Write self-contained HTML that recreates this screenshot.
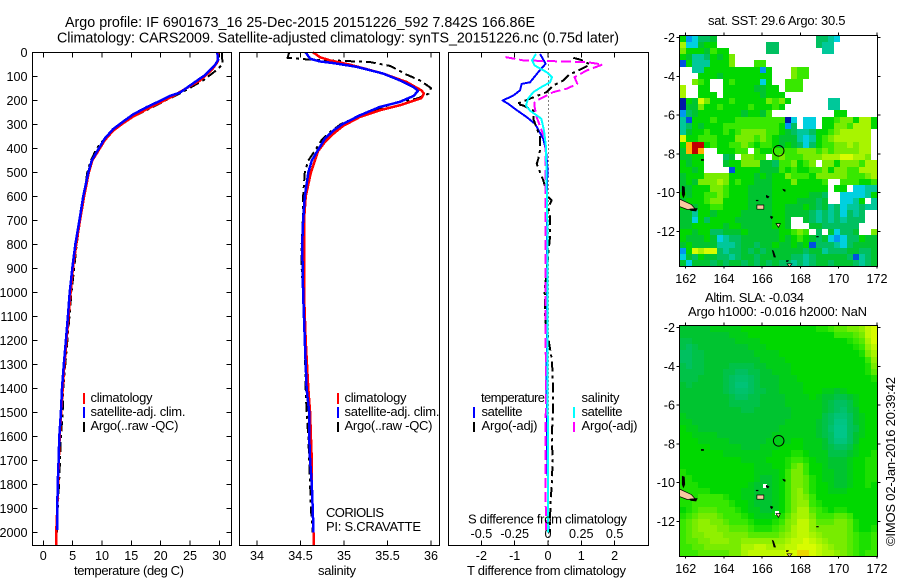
<!DOCTYPE html>
<html lang="en">
<head>
<meta charset="utf-8">
<title>Argo profile 6901673_16</title>
<style>
  html,body{margin:0;padding:0;background:#fff;}
  svg{display:block;}
  text{font-family:"Liberation Sans",sans-serif;font-size:13px;fill:#000;}
  text.tick-text{font-size:12.6px;}
  text.title-text{font-size:14.3px;}
</style>
</head>
<body>
<svg id="fig" width="900" height="580" viewBox="0 0 900 580" xmlns="http://www.w3.org/2000/svg">
  <rect x="0" y="0" width="900" height="580" fill="#fff"/>
  <text class="title-text" x="65" y="27" textLength="470" lengthAdjust="spacing">Argo profile: IF 6901673_16 25-Dec-2015 20151226_592 7.842S 166.86E</text>
  <text class="title-text" x="57" y="42.5" textLength="562" lengthAdjust="spacing">Climatology: CARS2009. Satellite-adjusted climatology: synTS_20151226.nc (0.75d later)</text>

  <g id="marks"></g>

  <text x="74" y="575" textLength="110" lengthAdjust="spacing">temperature (deg C)</text>
  <text x="318" y="575" textLength="38" lengthAdjust="spacing">salinity</text>
  <text x="467" y="575" textLength="159" lengthAdjust="spacing">T difference from climatology</text>
  <text x="468" y="523.5" textLength="159" lengthAdjust="spacing">S difference from climatology</text>

  <g>
    <rect x="83" y="393" width="2" height="11" fill="#ff0000"/>
    <rect x="83" y="407" width="2" height="11" fill="#0000ff"/>
    <rect x="83" y="422" width="2" height="10" fill="#000"/>
    <text x="90.5" y="402" textLength="62" lengthAdjust="spacing">climatology</text>
    <text x="90.5" y="416" textLength="95" lengthAdjust="spacing">satellite-adj. clim.</text>
    <text x="90.5" y="430" textLength="88" lengthAdjust="spacing">Argo(..raw -QC)</text>
  </g>
  <g>
    <rect x="337" y="393" width="2" height="11" fill="#ff0000"/>
    <rect x="337" y="407" width="2" height="11" fill="#0000ff"/>
    <rect x="337" y="422" width="2" height="10" fill="#000"/>
    <text x="344.5" y="402" textLength="62" lengthAdjust="spacing">climatology</text>
    <text x="344.5" y="416" textLength="95" lengthAdjust="spacing">satellite-adj. clim.</text>
    <text x="344.5" y="430" textLength="88" lengthAdjust="spacing">Argo(..raw -QC)</text>
    <text x="326" y="517" textLength="58" lengthAdjust="spacing">CORIOLIS</text>
    <text x="326" y="531" textLength="95" lengthAdjust="spacing">PI: S.CRAVATTE</text>
  </g>
  <g>
    <text x="481" y="402" textLength="64" lengthAdjust="spacing">temperature</text>
    <rect x="473" y="407" width="2" height="11" fill="#0000ff"/>
    <text x="481.5" y="416" textLength="41" lengthAdjust="spacing">satellite</text>
    <rect x="473" y="422" width="2" height="10" fill="#000"/>
    <text x="481.5" y="430" textLength="56" lengthAdjust="spacing">Argo(-adj)</text>
    <text x="581.5" y="402" textLength="38" lengthAdjust="spacing">salinity</text>
    <rect x="573" y="407" width="2" height="11" fill="#00ffff"/>
    <text x="581.5" y="416" textLength="41" lengthAdjust="spacing">satellite</text>
    <rect x="573" y="422" width="2" height="10" fill="#ff00ff"/>
    <text x="581.5" y="430" textLength="56" lengthAdjust="spacing">Argo(-adj)</text>
  </g>

  <text x="708" y="25" textLength="137.5" lengthAdjust="spacing">sat. SST: 29.6 Argo: 30.5</text>
  <text x="705" y="302" textLength="99" lengthAdjust="spacing">Altim. SLA: -0.034</text>
  <text x="688" y="316" textLength="179" lengthAdjust="spacing">Argo h1000: -0.016 h2000: NaN</text>
  <text transform="translate(895 546) rotate(-90)" textLength="169" lengthAdjust="spacing">©IMOS 02-Jan-2016 20:39:42</text>
</svg>

<script>
// ---------- profile data (depth in m) ----------
const depthTicks = [0,100,200,300,400,500,600,700,800,900,1000,1100,1200,1300,1400,1500,1600,1700,1800,1900,2000];
const tempTicks = [0,5,10,15,20,25,30];
const salTicks = [34,34.5,35,35.5,36];
const salTickLabels = ["34","34.5","35","35.5","36"];
const tDiffTicks = [-2,-1,0,1,2];
const sDiffTicks = [-0.5,-0.25,0,0.25,0.5];
const sDiffTickLabels = ["-0.5","-0.25","0","0.25","0.5"];

const tempSatDepth = [0,31,52,94,128,167,181,205,228,258,288,319,358,403,450,500,600,700,800,900,1000,1100,1200,1300,1400,1500,1600,1700,1800,1900,1990];
const tempSat = [29.66,29.8,29.26,27.56,25.57,23.3,21.6,19.6,17.6,15.3,13.6,11.9,10.5,9.4,8.25,7.67,6.8,6.15,5.46,4.95,4.5,4.2,3.85,3.5,3.19,3.0,2.73,2.6,2.45,2.38,2.38];
const tempClimDepth = [0,40,73,117,140,181,209,233,267,295,326,365,403,450,500,600,700,800,900,1000,1100,1200,1300,1400,1500,1600,1700,1800,1900,2000,2055];
const tempClim = [29.8,29.7,28.7,26.7,25.0,22.16,19.9,17.9,15.3,13.6,11.9,10.5,9.55,8.35,7.75,6.95,6.25,5.6,5.05,4.65,4.3,3.95,3.6,3.3,3.05,2.8,2.65,2.5,2.38,2.2,2.2];
const tempArgoDepth = [0,25,50,73,115,163,198,233,274,330,400,450,500,600,700,800,900,1000,1100,1200,1300,1400,1500,1600,1700,1800,1900,2000];
const tempArgo = [30.4,30.5,30.55,29.55,27.3,23.9,21,18.2,14.8,11.4,9.1,8.1,7.5,6.9,6.25,5.7,5.25,4.8,4.45,4.1,3.75,3.4,3.3,3.0,2.85,2.67,2.45,2.3];

const salSatDepth = [0,5,26,37,44,60,88,116,144,160,181,206,227,262,297,324,359,407,450,500,600,700,800,1000,1200,1400,1500,1600,1700,1800,1900,2000];
const salSat = [34.56,34.57,34.61,34.72,34.88,35.15,35.45,35.64,35.8,35.85,35.8,35.64,35.41,35.18,34.99,34.88,34.78,34.7,34.63,34.59,34.55,34.53,34.52,34.53,34.55,34.57,34.6,34.6,34.61,34.63,34.64,34.65];
const salClimDepth = [0,5,19,33,51,88,123,158,171,190,220,241,269,306,338,373,412,500,600,700,800,1000,1200,1400,1500,1600,1700,1800,1900,2000,2055];
const salClim = [34.64,34.67,34.72,34.84,35.07,35.45,35.72,35.89,35.92,35.89,35.64,35.41,35.18,34.99,34.88,34.78,34.7,34.62,34.56,34.54,34.54,34.54,34.56,34.59,34.61,34.62,34.63,34.63,34.64,34.65,34.65];
const salArgoDepth = [0,22,28,35,40,56,92,116,148,172,192,209,237,269,297,331,366,401,450,500,600,700,800,900,1000,1200,1400,1500,1600,1700,1800,1900,2000];
const salArgo = [34.37,34.35,34.54,34.99,35.3,35.53,35.72,35.87,36.0,35.97,35.84,35.6,35.37,35.15,34.97,34.84,34.74,34.68,34.59,34.55,34.53,34.526,34.514,34.514,34.53,34.55,34.56,34.57,34.59,34.6,34.61,34.62,34.64];

const tDiffSatDepth = [6,47,68,124,131,158,179,200,214,235,269,297,360,408,478,800,1400,1700,1800,2000];
const tDiffSat = [-0.24,-0.07,-0.21,-0.54,-0.79,-0.84,-1.04,-1.36,-1.19,-0.99,-0.64,-0.39,-0.14,-0.06,-0.02,-0.03,-0.04,-0.02,0,0.01];
const tDiffArgoDepth = [22,31,50,82,89,117,137,165,214,221,242,276,353,408,443,464,533,603,617,644,686,769,992,1117,1283,1400,1500,1600,1700,1800,1900,2000];
const tDiffArgo = [0.76,0.99,1.26,0.81,0.66,0.46,0.16,-0.04,-0.94,-0.74,-0.44,-0.44,-0.24,-0.24,-0.29,-0.34,-0.14,0.01,0.11,0.01,0.06,0.06,-0.1,-0.08,0.12,0.15,0.15,0.11,0.14,0.11,0.07,0.06];
const sDiffSatDepth = [6,33,54,82,103,124,144,165,193,221,242,276,325,394,800,1400,2000];
const sDiffSat = [-0.09,-0.12,-0.1,-0.01,0.03,0.015,-0.05,-0.11,-0.15,-0.165,-0.135,-0.05,-0.03,-0.015,-0.0025,-0.0025,0];
const sDiffArgoDepth = [19,33,40,50,75,103,131,151,165,193,207,228,269,367,1000,1400,1700,2000];
const sDiffArgo = [-0.32,-0.185,0.29,0.41,0.29,0.2,0.22,0.14,0.04,-0.06,-0.1,-0.1,-0.085,-0.02,-0.02,-0.015,-0.02,-0.015];

// ---------- map data ----------
const lonTicks = [162,164,166,168,170,172];
const latTicks = [-2,-4,-6,-8,-10,-12];
const floatLon = 166.86;
const floatLat = -7.842;
const _ = null;
// satellite SST colour levels (0 = coldest, 13 = warmest); null = no data
const sstLevels = [
[7,2,3,5,5,6,_,_,_,_,_,_,_,_,_,_,_,_,_,_,_,_,5,5,4,3,_,_,_,_,_,_],
[10,3,3,6,7,7,_,_,_,_,_,_,_,_,5,5,_,_,_,_,_,_,5,4,4,_,_,_,_,_,_,_],
[9,7,7,7,6,8,7,7,_,_,_,_,_,_,5,5,_,_,_,_,_,_,_,4,4,_,_,_,_,_,_,_],
[7,6,4,4,5,7,6,7,9,_,_,_,_,_,_,_,_,_,_,_,_,_,_,_,_,_,_,_,_,_,_,_],
[1,7,4,4,4,7,7,7,9,_,_,_,8,8,_,_,_,_,_,_,_,_,_,_,_,_,_,_,_,_,_,_],
[_,_,4,4,7,7,7,7,7,7,7,7,7,2,7,_,_,_,9,8,8,_,_,_,_,_,_,_,_,_,_,_],
[_,_,_,7,7,7,6,7,7,7,7,7,7,7,7,_,_,_,9,8,8,_,_,_,_,_,_,_,_,_,_,_],
[_,_,9,8,7,_,_,7,8,7,7,7,7,3,7,_,_,8,8,8,_,_,_,_,_,_,_,_,_,_,_,_],
[10,_,_,7,7,_,_,7,7,7,7,7,6,6,7,7,_,8,8,8,_,_,_,_,_,_,_,_,_,_,_,_],
[10,_,_,7,7,7,_,7,7,7,7,7,7,6,7,7,7,_,_,_,_,_,_,_,_,_,_,_,_,_,_,_],
[0,7,6,11,9,7,7,7,8,7,7,7,7,7,9,8,9,7,_,_,_,_,_,_,4,4,_,_,_,_,_,_],
[0,6,6,9,7,7,8,7,7,7,7,8,7,7,7,8,7,_,_,_,_,_,_,_,4,4,_,_,_,_,_,_],
[2,5,6,7,7,7,7,7,7,7,6,7,7,6,8,_,_,_,_,_,_,_,_,_,_,7,7,_,_,_,_,_],
[4,1,7,7,7,8,7,7,7,8,8,8,8,8,8,8,8,0,3,_,3,3,_,7,7,8,9,9,7,10,10,7],
[4,5,7,6,7,7,7,8,8,8,8,8,8,8,8,8,7,2,5,_,3,3,_,7,7,9,9,8,10,10,10,7],
[4,6,7,7,8,7,7,8,7,8,9,9,9,9,8,8,7,6,5,4,4,5,7,7,8,9,10,10,10,10,10,_],
[11,7,7,8,8,8,7,7,7,9,9,9,8,9,8,7,6,6,6,4,3,4,7,8,9,10,10,10,10,10,10,_],
[7,12,13,13,7,8,7,7,8,8,9,8,7,8,8,7,6,7,6,5,3,5,7,8,8,9,9,10,9,10,10,_],
[6,12,13,12,_,_,7,7,7,8,8,_,8,7,7,8,8,8,8,9,9,9,8,9,8,9,9,9,9,10,10,_],
[6,6,7,7,_,_,_,5,6,_,9,9,8,8,_,8,9,8,8,8,9,9,9,10,10,10,11,11,10,10,9,_],
[7,6,7,7,_,_,_,6,7,7,9,9,9,6,6,5,8,8,9,7,8,9,_,9,9,7,9,9,9,8,10,10],
[7,7,6,7,_,_,_,_,1,7,7,7,7,6,6,6,8,7,8,7,7,8,8,9,7,9,9,8,8,10,10,10],
[6,7,7,7,9,9,9,9,7,7,7,7,6,7,6,7,7,9,8,8,8,7,9,9,9,9,9,8,8,8,9,10],
[6,7,6,9,9,9,10,9,7,8,7,7,6,6,6,7,7,7,9,7,7,7,7,8,_,_,8,8,8,7,7,8],
[6,6,7,7,7,9,9,8,7,7,7,6,6,6,6,7,7,7,7,7,7,7,7,7,_,7,7,_,3,3,4,4],
[7,6,7,7,8,8,9,8,7,7,7,6,6,6,6,7,7,7,7,7,7,6,6,5,_,_,3,3,3,3,4,7],
[6,7,7,7,8,9,9,7,7,7,7,6,6,6,6,7,7,7,7,6,6,6,5,6,_,_,3,3,4,7,_,4],
[7,6,6,7,7,8,8,7,7,7,7,6,6,6,6,7,7,6,6,6,7,6,5,6,4,5,3,4,4,5,4,4],
[6,6,4,7,7,6,7,7,7,7,6,6,6,6,6,7,7,6,6,6,6,5,4,5,4,5,3,5,4,5,_,_],
[6,6,3,7,5,7,7,7,7,6,6,6,6,6,6,7,7,6,_,_,6,5,4,5,4,5,4,5,5,5,_,_],
[6,6,7,7,7,7,7,6,7,7,6,6,6,6,6,7,7,6,_,_,_,6,6,5,5,5,5,5,5,_,_,_],
[7,7,6,7,7,5,5,6,6,6,7,6,6,6,6,6,7,7,8,9,8,_,5,_,6,3,5,5,6,_,_,9],
[7,6,6,6,7,6,3,4,5,5,6,6,6,6,6,6,7,6,7,8,7,6,5,6,3,2,3,5,5,7,6,6],
[6,7,6,6,6,6,4,4,4,5,6,6,5,6,6,7,6,6,7,6,7,1,5,5,5,4,3,5,6,6,6,6],
[2,7,11,10,11,11,5,4,5,5,6,5,6,5,6,6,6,6,6,6,5,6,6,4,5,5,5,6,6,5,5,6],
[3,6,5,7,6,6,5,5,4,5,6,6,5,6,6,6,6,6,5,5,4,5,6,6,6,6,6,5,1,4,5,6],
[6,3,6,6,6,5,6,5,6,6,5,6,5,6,5,6,5,5,4,5,4,5,6,6,5,6,6,6,5,4,5,6]
];
// altimeter SLA colour levels on the same colour scale
const slaLevels = [
[6,6,6,6,6,6.5,6.5,6.5,6.5,6.5,7,7,7,7,7,7,7,7,7,7,7,7,7.5,7.5,8,8.5,8.5,9,9,9.5,10.5,11],
[6,6,6,6,6,6,6,6,6.5,6.5,6.5,7,7,7,7,7,7,7,7,7,7,7,7,7,7,8,8,8,8.5,9,10.5,11],
[5.5,5.5,6,6,6,6,6,6,6,6.5,6.5,6.5,6.5,7,7,7,7,7,7,7,7,7,7,7,7,7,7,7.5,8,8.5,10,11],
[5.5,5,5.5,6,6,6,6,6,6,6,6,6.5,6.5,6.5,7,7,7,7,7,7,7,7,7,7,7,7,7,7,7.5,8,9.5,10.5],
[5,5,5.5,5.5,6,6,6,6,6,6,6,6,6.5,6.5,6.5,6.5,7,7,7,7,7,7,7,7,7,7,7,7,7,7.5,9,10],
[5,5,5.5,5.5,6,6,6,6,6,6,6,6,6,6.5,6.5,6.5,6.5,7,7,7,7,7,7,7,7,7,7,7,7,7,8,9.5],
[5.5,5,5.5,5.5,6,6,6,6,5.5,5.5,5.5,5.5,6,6,6.5,6.5,6.5,6.5,7,7,7,7,7,7,7,7,7,7,7,7,7.5,9],
[5.5,5.5,5.5,5.5,6,6,6,5.5,5.5,5,5,5.5,5.5,6,6,6.5,6.5,6.5,7,7,7,7,7,7,7,7,7,7,7,7,7.5,8.5],
[5.5,5.5,5.5,6,6,6,6,5.5,5,4.8,4.8,5,5.5,6,6,6,6.5,6.5,6.5,7,7,7,7,7,7,7,7,7,7,7,7,7.5],
[6,5.5,6,6,6,6,6,5.5,5,4.6,4.6,5,5.5,6,6,6,6.5,6.5,6.5,6.5,7,7,7,7,7,7,7,7,7,7,7,7],
[6,6,6,6,6,6,6,5.5,5,4.8,4.8,5,5.5,5.5,6,6,6.5,6.5,6.5,6.5,7,7,7,6.5,6.5,6,6.5,7,7,7,7,7],
[6,6,6,6,6,6,6,6,5.5,5,5,5.5,5.5,6,6,6,6,6.5,6.5,6.5,6.5,7,6.5,6,6,5.5,5.5,6,6.5,7,7,7],
[6,6,6,6,6,6,6,6,5.5,5.5,5.5,5.5,5.5,6,6,6,6,6.5,6.5,6.5,6.5,6.5,6.5,6,5.5,5,5,5.5,6.5,7,7,7],
[6,6,6,6,6,6,6,6,6,6,5.5,5.5,6,6,6,6,6,6,6.5,6.5,6.5,6.5,6.5,6,5.5,5,4.8,5.5,6,7,7,7],
[6.5,6,6,6,6,6,6,6,6,6,6,6,6,6,6,6,6,6,6.5,6.5,6.5,6.5,6.5,5.5,5,4.6,4.6,5,6,6.5,7,7],
[6.5,6.5,6,6,6,6,6,6,6,6,6,6,6,6,6,6,6,6.5,6.5,6.5,6.5,6.5,6,5.5,5,4.4,4.4,5,6,6.5,7,7],
[7,6.5,6.5,6,6,6,6,6,6,6,6,6,6,6,6,6,6.5,6.5,6.5,6.5,6.5,6.5,6,5.5,4.8,4.3,4.3,5,5.5,6.5,7,7],
[7,7,6.5,6.5,6.5,6.5,6,6,6,6,6,6,6,6,6,6.5,6.5,6.5,6.5,6.5,6.5,6.5,6,5.5,5,4.3,4.3,5,6,6.5,7,7],
[7,7,7,6.5,6.5,6.5,6.5,6.5,6,6,6,6,6,6,6.5,6.5,6.5,6.5,7,7,6.5,6.5,6.5,6,5,4.5,4.5,5,6,7,7,7],
[7,7,7,7,7,6.5,6.5,6.5,6.5,6.5,6,6,6,6.5,6.5,6.5,7,7,7,7,6.5,6.5,6.5,6,5.5,5,5,5.5,6.5,7,7,7],
[7,7,7,7,7,7,7,6.5,6.5,6.5,6.5,6.5,6.5,6.5,6.5,7,7,7,7.5,7.5,7,6.5,6.5,6.5,5.5,5.5,5.5,6,6.5,7,7,7.5],
[7,7,7,7,7,7,7,7,7,7,6.5,6.5,6.5,6.5,7,7,7,7.5,8,8,7.5,7,6.5,6.5,6,6,6,6.5,7,7,7.5,7.5],
[7,7,7,7,7,7,7,7,7,7,7,7,6.5,6.5,6.5,7,7,7.5,8.5,9,8,7,7,6.5,6,6,6,6.5,7,7,7.5,7.5],
[7.5,7,7,7,7,7,7,7,7,7,7,7,6.5,6.5,6.5,6.5,7,8,9,9,8,7,7,6.5,6.5,6,6,6.5,7,7,7.5,7.5],
[7.5,7.5,7,7,7,7,7,7,7,7,7,7,6.5,6,6,6.5,7,8,9,9,8.5,7.5,7,6.5,6.5,6,6,6.5,7,7,7.5,7.5],
[7.5,7.5,7.5,7,7,7,7,7,7,7,7,6.5,6,6,6,6.5,7,8,9,9,8.5,7.5,7,7,6.5,6,6,6.5,7,7,7.5,7],
[7.5,7.5,7.5,7.5,7.5,7,7,7,7,7,6.5,6.5,6,6,6,6.5,7,8,9,9.5,8.5,7.5,7,7,6.5,6.5,6.5,7,7,7,7,7],
[7.5,7.5,7.5,8,8,8,8,7.5,7,7,6.5,6.5,6,6,6,6.5,7,8,9,9.5,9,8,7,7,7,7,7,7,7,7,7,7],
[7.5,7.5,8,8,8,8,8,8,7.5,7,7,6.5,6,6,6,6.5,7,8,9,9.5,9.5,8,7.5,7,7,7,7,7,7,7,7,7],
[7,7.5,8,8.5,8.5,8.5,8,8,8,7.5,7,6.5,6.5,6,6,6.5,7,8,9,10,10,8.5,8,7.5,7,7.5,7.5,7,7,7,7,7],
[7.5,8,8.5,9,9,9,8.5,8,8,8,7.5,7,6.5,6.5,6.5,7,7.5,8.5,9.5,10,10,9,8,8,8,8.5,8.5,8,7,7,7,7],
[8,8.5,9,9.5,9.5,9,9,8.5,8,8,8,7.5,7,7,7,7.5,8,9,9.5,10.5,10.5,9.5,8.5,8.5,8.5,9,9,8.5,7.5,7,7,7],
[8,8.5,9,9.5,9.5,9.5,9,9,8.5,8.5,8.5,8,7.5,7.5,7.5,8,8.5,9,10,10.5,10.5,9.5,9,9,9,9,9,8.5,7.5,7,7,7.5],
[8,8.5,9,9,9.5,9.5,9.5,9,9,9,9,8.5,8.5,8.5,8.5,8.5,9,9.5,10,10.5,10.5,10,9.5,9,9,9,9,8.5,8,7.5,7.5,8],
[8,8.5,8.5,9,9,9.5,9.5,9.5,9,9,9.5,9.5,9.5,9.5,9.5,9.5,9.5,10,10.5,10.5,11,10.5,10,9.5,9,9,9,8.5,8,7.5,7.5,8],
[8,8,8.5,8.5,9,9,9,9,9,9,10,10,10.5,10.5,10,10,10,10.5,10.5,11,11,11,10.5,10,9.5,9,9,8.5,8,7.5,7.5,8],
[8,8,8,8.5,8.5,8.5,8.5,8.5,9,9,10,10.5,10.5,10.5,10.5,10.5,10.5,11,11,11.5,11.5,11,10.5,10,10,9.5,9,8.5,8,7.5,8,8]
];
// coastline polygons as [lon, lat] vertices
const tanIslands = [
  [[161.67,-10.33],[162.0,-10.48],[162.3,-10.62],[162.5,-10.85],[162.1,-10.88],[161.67,-10.72]],
  [[165.72,-10.64],[166.08,-10.64],[166.08,-10.86],[165.72,-10.86]],
  [[166.72,-11.6],[166.95,-11.6],[166.85,-11.8]],
  [[167.3,-13.68],[167.55,-13.68],[167.42,-13.83]]
];
const blackIslands = [
  [[161.8,-9.65],[161.95,-9.7],[161.97,-10.1],[161.88,-10.3],[161.8,-10.1]],
  [[162.2,-10.84],[162.62,-10.8],[162.55,-10.97],[162.25,-10.94]],
  [[162.8,-8.27],[162.95,-8.27],[162.95,-8.36],[162.8,-8.36]],
  [[167.05,-9.8],[167.22,-9.85],[167.2,-9.97],[167.1,-9.9]],
  [[166.2,-10.12],[166.38,-10.2],[166.3,-10.3],[166.2,-10.25]],
  [[165.67,-10.38],[165.8,-10.38],[165.8,-10.44],[165.67,-10.44]],
  [[166.42,-11.2],[166.58,-11.25],[166.5,-11.38],[166.42,-11.3]],
  [[166.5,-12.95],[166.6,-13],[166.72,-13.35],[166.6,-13.35]],
  [[167.25,-13.5],[167.4,-13.5],[167.35,-13.58],[167.25,-13.58]],
  [[168.82,-12.25],[168.95,-12.25],[168.95,-12.31],[168.82,-12.31]]
];
// gaps in the altimeter field near islands, [lon, lat]
const slaGapLon = [166.16,166.76];
const slaGapLat = [-10.16,-11.56];
const colourStops = ["#0018a8","#0050e0","#0098f0","#00d0e0","#00c89a","#00c060","#00c430","#00d800","#38e800","#78ec00","#a8f400","#d8fc00","#ffb000","#c00000"];

// ---------- helpers ----------
const NS = "http://www.w3.org/2000/svg";
const root = document.getElementById("marks");
function node(tag, attrs, name) {
  const el = document.createElementNS(NS, tag);
  for (const k in attrs) el.setAttribute(k, attrs[k]);
  
  
  root.appendChild(el);
  return el;
}
function tick(x1, y1, x2, y2, name) {
  node("line", {x1:x1, y1:y1, x2:x2, y2:y2, stroke:"#000", "stroke-width":1, "shape-rendering":"crispEdges"}, name);
}
function label(x, y, str, anchor, name) {
  const t = node("text", {x:x, y:y, "text-anchor":anchor, "class":"tick-text"}, name);
  t.textContent = str;
}
function frame(x0, y0, x1, y1, name) {
  node("rect", {x:x0, y:y0, width:x1-x0, height:y1-y0, fill:"none", stroke:"#000", "stroke-width":1, "shape-rendering":"crispEdges"}, name);
}
function hex(c) { return [1,3,5].map(i => parseInt(c.substr(i,2),16)); }
function levelColour(v) {
  const lo = Math.max(0, Math.min(colourStops.length-1, Math.floor(v)));
  const hi = Math.min(colourStops.length-1, lo+1);
  const f = v-lo, a = hex(colourStops[lo]), b = hex(colourStops[hi]);
  return "rgb("+a.map((p,i)=>Math.round(p+(b[i]-p)*f)).join(",")+")";
}

// ---------- profile axes ----------
const TOP = 52.5, BOTTOM = 545.5;
const yDepth = d => TOP + d*0.24;
const xTemp = t => 43.3 + t*5.867;
const xSal = s => 257 + (s-34)*87;
const xTDiff = v => 548 + v*33.3;
const xSDiff = v => 548 + v*133.2;

function profile(depths, values, xFn, colour, dash, width, name) {
  const pts = values.map((v,i) => xFn(v).toFixed(1)+","+yDepth(depths[i]).toFixed(1)).join(" ");
  const attrs = {points:pts, fill:"none", stroke:colour, "stroke-width":width, "shape-rendering":"crispEdges", "stroke-linejoin":"round"};
  if (dash) attrs["stroke-dasharray"] = dash;
  node("polyline", attrs, name);
}

// temperature panel
depthTicks.forEach(d => {
  tick(32.5, yDepth(d), 37.5, yDepth(d), "depth-tick-left-"+d);
  tick(226.5, yDepth(d), 231.5, yDepth(d), "depth-tick-right-"+d);
  label(27.5, yDepth(d)+4.5, String(d), "end", "depth-tick-label-"+d);
});
tempTicks.forEach(t => {
  tick(xTemp(t), TOP, xTemp(t), TOP+5, "temperature-tick-top-"+t);
  tick(xTemp(t), BOTTOM-5, xTemp(t), BOTTOM, "temperature-tick-bottom-"+t);
  label(xTemp(t), 560, String(t), "middle", "temperature-tick-label-"+t);
});
profile(tempArgoDepth, tempArgo, xTemp, "#000", "10 4 3 4", 2, "temperature-argo-line");
profile(tempClimDepth, tempClim, xTemp, "#ff0000", null, 2.5, "temperature-climatology-line");
profile(tempSatDepth, tempSat, xTemp, "#0000ff", null, 2.5, "temperature-satellite-line");
frame(32.5, TOP, 231.5, BOTTOM, "temperature-panel-frame");

// salinity panel
salTicks.forEach((s,i) => {
  tick(xSal(s), TOP, xSal(s), TOP+5, "salinity-tick-top-"+s);
  tick(xSal(s), BOTTOM-5, xSal(s), BOTTOM, "salinity-tick-bottom-"+s);
  label(xSal(s), 560, salTickLabels[i], "middle", "salinity-tick-label-"+s);
});
profile(salArgoDepth, salArgo, xSal, "#000", "10 4 3 4", 2, "salinity-argo-line");
profile(salClimDepth, salClim, xSal, "#ff0000", null, 2.5, "salinity-climatology-line");
profile(salSatDepth, salSat, xSal, "#0000ff", null, 2.5, "salinity-satellite-line");
frame(239.5, TOP, 439.5, BOTTOM, "salinity-panel-frame");

// difference panel
node("line", {x1:548.5, y1:TOP, x2:548.5, y2:BOTTOM, stroke:"#000", "stroke-width":1, "stroke-dasharray":"1 3", "shape-rendering":"crispEdges"}, "zero-difference-line");
tDiffTicks.forEach(v => {
  tick(xTDiff(v), TOP, xTDiff(v), TOP+5, "t-difference-tick-top-"+v);
  tick(xTDiff(v), BOTTOM-5, xTDiff(v), BOTTOM, "t-difference-tick-bottom-"+v);
  label(xTDiff(v), 560, String(v), "middle", "t-difference-tick-label-"+v);
});
sDiffTicks.forEach((v,i) => {
  label(xSDiff(v), 538, sDiffTickLabels[i], "middle", "s-difference-tick-label-"+v);
});
profile(tDiffSatDepth, tDiffSat, xTDiff, "#0000ff", null, 2, "t-difference-satellite-line");
profile(tDiffArgoDepth, tDiffArgo, xTDiff, "#000", "10 4 3 4", 2, "t-difference-argo-line");
profile(sDiffArgoDepth, sDiffArgo, xSDiff, "#ff00ff", "10 4", 2, "s-difference-argo-line");
profile(sDiffSatDepth, sDiffSat, xSDiff, "#00ffff", null, 2, "s-difference-satellite-line");
frame(448.5, TOP, 648.5, BOTTOM, "difference-panel-frame");

// ---------- maps ----------
const xLon = lon => 685.7 + (lon-162)*19.13;
function drawMap(levels, top, bottom, labelBaseline, gapLon, gapLat, mapName) {
  const yLat = lat => top + 2.2 + (-2-lat)*19.36;
  const left = 679.5, right = 877.5;
  const rows = levels.length, cols = levels[0].length;
  levels.forEach((row, r) => {
    const y0 = Math.round(top + (bottom-top)*r/rows), y1 = Math.round(top + (bottom-top)*(r+1)/rows);
    row.forEach((v, c) => {
      if (v === null) return;
      const x0 = Math.round(left + (right-left)*c/cols), x1 = Math.round(left + (right-left)*(c+1)/cols);
      node("rect", {x:x0, y:y0, width:x1-x0, height:y1-y0, fill:levelColour(v), "shape-rendering":"crispEdges"}, mapName+"-cell");
    });
  });
  gapLon.forEach((lon,i) => {
    node("rect", {x:Math.round(xLon(lon))-2, y:Math.round(yLat(gapLat[i]))-2, width:4, height:4, fill:"#fff", "shape-rendering":"crispEdges"}, mapName+"-gap");
  });
  tanIslands.forEach(p => {
    node("polygon", {points:p.map(q => xLon(q[0]).toFixed(1)+","+yLat(q[1]).toFixed(1)).join(" "), fill:"#f8c8a0", stroke:"#000", "stroke-width":0.7}, mapName+"-island");
  });
  blackIslands.forEach(p => {
    node("polygon", {points:p.map(q => xLon(q[0]).toFixed(1)+","+yLat(q[1]).toFixed(1)).join(" "), fill:"#000"}, mapName+"-reef");
  });
  node("circle", {cx:xLon(floatLon), cy:yLat(floatLat), r:5.3, fill:"none", stroke:"#000", "stroke-width":1}, mapName+"-float-marker");
  frame(left, top, right, bottom, mapName+"-frame");
  lonTicks.forEach(lon => {
    tick(xLon(lon), top-3, xLon(lon), top, mapName+"-lon-tick-top-"+lon);
    tick(xLon(lon), bottom, xLon(lon), bottom+2, mapName+"-lon-tick-bottom-"+lon);
    label(xLon(lon), labelBaseline, String(lon), "middle", mapName+"-lon-label-"+lon);
  });
  latTicks.forEach(lat => {
    tick(left-3, yLat(lat), left, yLat(lat), mapName+"-lat-tick-left-"+lat);
    tick(right, yLat(lat), right+3, yLat(lat), mapName+"-lat-tick-right-"+lat);
    label(675, yLat(lat)+4.5, String(lat), "end", mapName+"-lat-label-"+lat);
  });
}
drawMap(sstLevels, 35.5, 266.5, 283, [], [], "sst-map");
drawMap(slaLevels, 325.5, 556.5, 573, slaGapLon, slaGapLat, "sla-map");
</script>
</body>
</html>
